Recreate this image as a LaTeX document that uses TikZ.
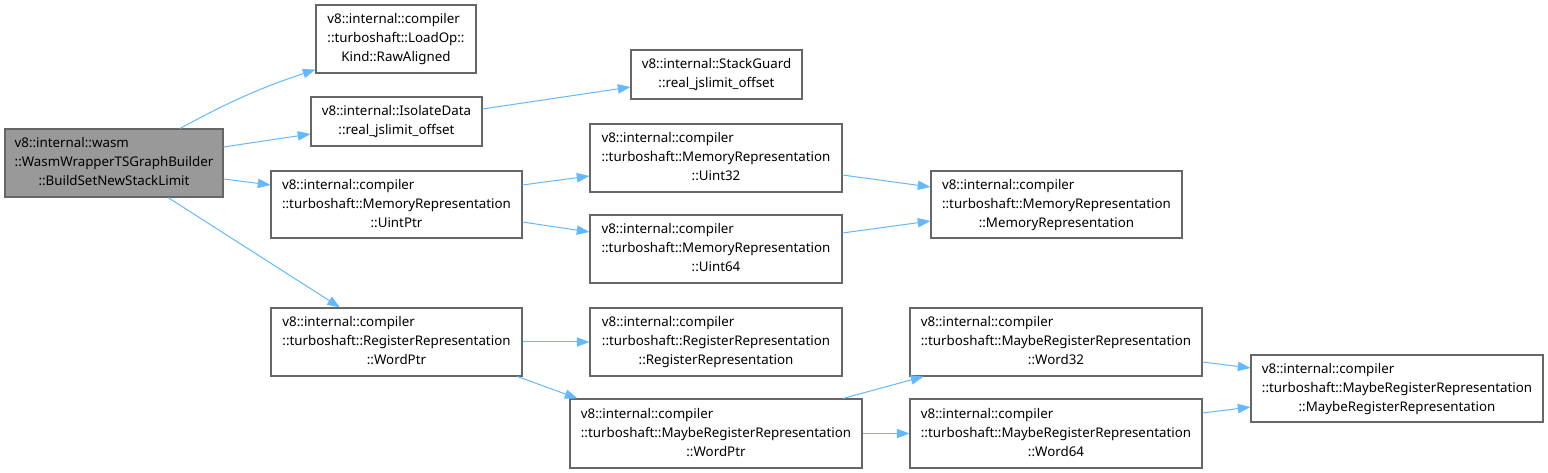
\documentclass[tikz,border=0pt]{standalone}
\usepackage{fontspec}
\setmainfont{Noto Sans}
\usepackage{xcolor}
\usepackage{tikz}
\usetikzlibrary{arrows.meta, calc}
\definecolor{edgeblue}{HTML}{63B8FF}
\definecolor{boxgray}{HTML}{666666}
\definecolor{rootgray}{HTML}{999999}
\newcommand{\fnlbl}[2]{\begin{tabular}{@{}l@{}}#1\\\multicolumn{1}{@{}c@{}}{#2}\end{tabular}}
\tikzset{
  fn/.style   ={rectangle, draw=boxgray, line width=0.8pt, fill=white, inner sep=0pt, font=\fontsize{10}{14.25}\selectfont},
  fnroot/.style ={fn, fill=rootgray},
  cg/.style   ={-{Triangle[length=9.5pt, width=7pt]}, draw=edgeblue, line width=0.75pt},
}

\begin{document}
\begin{tikzpicture}[x=0.75pt, y=-0.75pt]
\useasboundingbox (0,0) rectangle (1548,473);

% 调用者
\node[fnroot, minimum width=218*0.75pt, minimum height=68*0.75pt] (root) at (114,163)
  {\fnlbl{v8::internal::wasm\\::WasmWrapperTSGraphBuilder}{::BuildSetNewStackLimit}};

% 第一层
\node[fn, minimum width=160*0.75pt, minimum height=68*0.75pt] (loadop) at (396,39)
  {\fnlbl{v8::internal::compiler\\::turboshaft::LoadOp::}{Kind::RawAligned}};
\node[fn, minimum width=171*0.75pt, minimum height=49*0.75pt] (isodata) at (396.5,121.5)
  {\fnlbl{v8::internal::IsolateData}{::real\_jslimit\_offset}};
\node[fn, minimum width=251*0.75pt, minimum height=67*0.75pt] (uintptr) at (396.5,204.5)
  {\fnlbl{v8::internal::compiler\\::turboshaft::MemoryRepresentation}{::UintPtr}};
\node[fn, minimum width=251*0.75pt, minimum height=68*0.75pt] (regwordptr) at (396.5,342)
  {\fnlbl{v8::internal::compiler\\::turboshaft::RegisterRepresentation}{::WordPtr}};

% 第二层
\node[fn, minimum width=171*0.75pt, minimum height=49*0.75pt] (stackguard) at (716.5,74.5)
  {\fnlbl{v8::internal::StackGuard}{::real\_jslimit\_offset}};
\node[fn, minimum width=252*0.75pt, minimum height=68*0.75pt] (uint32) at (716,158)
  {\fnlbl{v8::internal::compiler\\::turboshaft::MemoryRepresentation}{::Uint32}};
\node[fn, minimum width=252*0.75pt, minimum height=68*0.75pt] (uint64) at (716,249)
  {\fnlbl{v8::internal::compiler\\::turboshaft::MemoryRepresentation}{::Uint64}};
\node[fn, minimum width=252*0.75pt, minimum height=68*0.75pt] (regrep) at (716,342)
  {\fnlbl{v8::internal::compiler\\::turboshaft::RegisterRepresentation}{::RegisterRepresentation}};
\node[fn, minimum width=292*0.75pt, minimum height=69*0.75pt] (maybewordptr) at (716,433.5)
  {\fnlbl{v8::internal::compiler\\::turboshaft::MaybeRegisterRepresentation}{::WordPtr}};

% 第三层
\node[fn, minimum width=251*0.75pt, minimum height=67*0.75pt] (memrep) at (1056.5,204.5)
  {\fnlbl{v8::internal::compiler\\::turboshaft::MemoryRepresentation}{::MemoryRepresentation}};
\node[fn, minimum width=292*0.75pt, minimum height=68*0.75pt] (word32) at (1056,342)
  {\fnlbl{v8::internal::compiler\\::turboshaft::MaybeRegisterRepresentation}{::Word32}};
\node[fn, minimum width=292*0.75pt, minimum height=69*0.75pt] (word64) at (1056,433.5)
  {\fnlbl{v8::internal::compiler\\::turboshaft::MaybeRegisterRepresentation}{::Word64}};

% 第四层
\node[fn, minimum width=292*0.75pt, minimum height=67*0.75pt] (maybe) at (1397,388.5)
  {\fnlbl{v8::internal::compiler\\::turboshaft::MaybeRegisterRepresentation}{::MaybeRegisterRepresentation}};

% 调用关系
\draw[cg] ($(root.north)+(66,0)$) to[bend left=5] ($(loadop.south west)+(0,-4)$);
\draw[cg] ($(root.east)+(0,-16)$) -- ($(isodata.west)+(0,12.5)$);
\draw[cg] ($(root.east)+(0,16)$) -- ($(uintptr.west)+(0,-19.5)$);
\draw[cg] ($(root.south)+(54,0)$) -- ($(regwordptr.north)+(-56.5,0)$);
\draw[cg] ($(isodata.east)+(0,-12.5)$) -- ($(stackguard.west)+(0,12.5)$);
\draw[cg] ($(uintptr.east)+(0,-19.5)$) -- ($(uint32.west)+(0,18)$);
\draw[cg] ($(uintptr.east)+(0,17.5)$) -- ($(uint64.west)+(0,-17)$);
\draw[cg] ($(uint32.east)+(0,17)$) -- ($(memrep.west)+(0,-17.5)$);
\draw[cg] ($(uint64.east)+(0,-16)$) -- ($(memrep.west)+(0,16.5)$);
\draw[cg] (regwordptr.east) -- (regrep.west);
\draw[cg] ($(regwordptr.south east)+(-5,0)$) -- ($(maybewordptr.north west)+(8,0)$);
\draw[cg] ($(maybewordptr.north)+(127,0)$) -- ($(word32.south west)+(14,0)$);
\draw[cg] (maybewordptr.east) -- (word64.west);
\draw[cg] ($(word32.east)+(0,20)$) -- ($(maybe.west)+(0,-20.5)$);
\draw[cg] ($(word64.east)+(0,-20.5)$) -- ($(maybe.west)+(0,18.5)$);

\end{tikzpicture}
\end{document}
